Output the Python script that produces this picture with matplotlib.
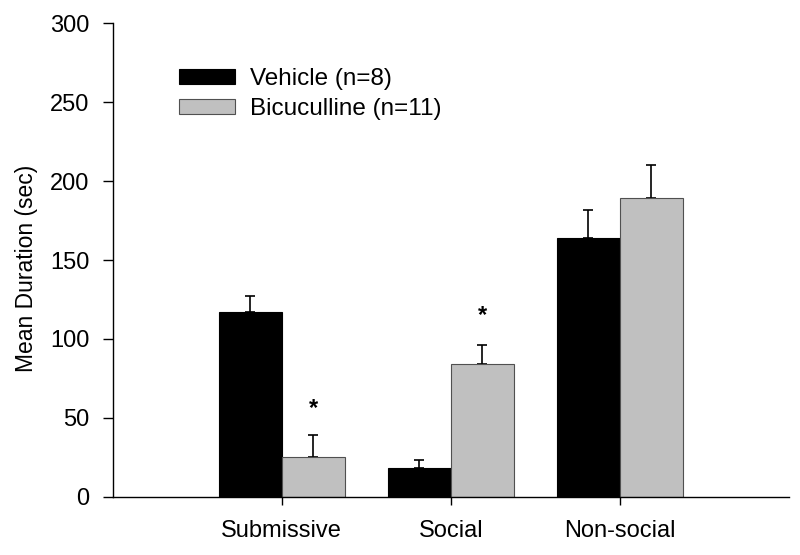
import matplotlib
matplotlib.use("Agg")
import matplotlib.pyplot as plt
import numpy as np

plt.rcParams['font.family'] = ['Liberation Sans', 'DejaVu Sans']

categories = ["Submissive", "Social", "Non-social"]
vehicle = [117, 18.5, 164]
vehicle_err = [10, 5, 18]
bicuculline = [25, 84, 189.5]
bicuculline_err = [14, 12, 21]
sig_marker_y = [56, 115, None]   # height of '*' above bicuculline bars
yticks = [0, 50, 100, 150, 200, 250, 300]

fig = plt.figure(figsize=(8, 5.55), dpi=100)
ax = fig.add_axes([0.141, 0.105, 0.845, 0.853])

x = np.arange(len(categories))
w = 0.373
ax.bar(x - w/2, vehicle, w, color='black', edgecolor='black', linewidth=0.8,
       label='Vehicle (n=8)', zorder=2)
ax.bar(x + w/2, bicuculline, w, color='#c0c0c0', edgecolor='#505050', linewidth=0.8,
       label='Bicuculline (n=11)', zorder=2)
ax.errorbar(x - w/2, vehicle, yerr=[np.zeros(3), vehicle_err], fmt='none',
            ecolor='black', elinewidth=1.2, capsize=3.8, capthick=1.2, zorder=1)
ax.errorbar(x + w/2, bicuculline, yerr=[np.zeros(3), bicuculline_err], fmt='none',
            ecolor='black', elinewidth=1.2, capsize=3.8, capthick=1.2, zorder=1)

for i, yy in enumerate(sig_marker_y):
    if yy is not None:
        ax.text(x[i] + w/2, yy, '*', ha='center', va='center',
                fontsize=17, fontweight='bold')

ax.set_xlim(-1, 3)
ax.set_ylim(0, 300)
ax.set_yticks(yticks)
ax.set_xticks(x)
ax.set_xticklabels(categories, fontsize=17)
ax.tick_params(axis='y', labelsize=17, length=7, width=1, direction='out', pad=10)
ax.tick_params(axis='x', length=6, width=1, direction='out', pad=11)
ax.spines['top'].set_visible(False)
ax.spines['right'].set_visible(False)
ax.spines['left'].set_linewidth(1)
ax.spines['bottom'].set_linewidth(1)
ax.set_ylabel('Mean Duration (sec)', fontsize=16.5)
ax.yaxis.set_label_coords(-0.111, 0.483)

ax.legend(loc='upper left', bbox_to_anchor=(0.080, 0.932), frameon=False,
          fontsize=17.5, handlelength=2.3, handleheight=0.58, handletextpad=0.62,
          labelspacing=0.33, borderpad=0)

fig.savefig('out.png', dpi=100)
